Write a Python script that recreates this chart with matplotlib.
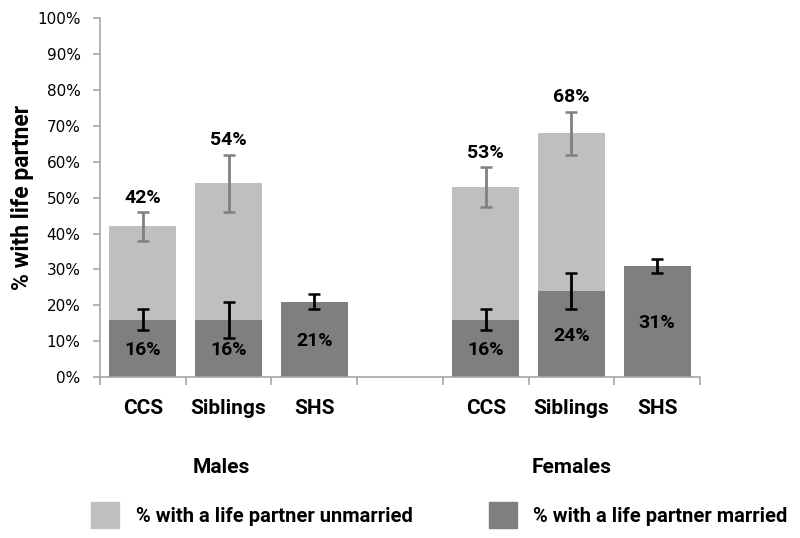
import matplotlib
matplotlib.use("Agg")
import matplotlib.pyplot as plt
import matplotlib.patches as mpatches
import numpy as np

# Data (percent)
groups = ["CCS", "Siblings", "SHS", "CCS", "Siblings", "SHS"]
positions = [0, 1, 2, 4, 5, 6]
married = [16, 16, 21, 16, 24, 31]
married_err = [3, 5, 2, 3, 5, 2]
total = [42, 54, None, 53, 68, None]
total_err = [4, 8, None, 5.5, 6, None]
sex_labels = ["Males", "Females"]
sex_centers = [0.92, 5]
y_ticks = list(range(0, 101, 10))
legend_labels = ["% with a life partner unmarried", "% with a life partner married"]

LIGHT = "#bfbfbf"
DARK = "#7f7f7f"
BOLD_FONT = ["Roboto", "DejaVu Sans"]

fig = plt.figure(figsize=(8, 5.38), dpi=100)
ax = fig.add_axes([0.125, 0.2993, 0.75, 0.6667])

bar_w = 0.78
unmarried = [t - m if t is not None else 0 for t, m in zip(total, married)]

ax.bar(positions, married, width=bar_w, color=DARK, zorder=2)
ax.bar(positions, unmarried, bottom=married, width=bar_w, color=LIGHT, zorder=2)

# error bars: upper (total) in grey, lower (married) in black
for x, t, te in zip(positions, total, total_err):
    if t is None:
        continue
    ax.errorbar(x, t, yerr=te, fmt="none", ecolor="#808080", elinewidth=2,
                capsize=4, capthick=1.8, zorder=3)
    ax.text(x, t + te + 1.5, f"{t}%", ha="center", va="bottom",
            fontsize=14, fontweight="bold", family=BOLD_FONT)

for x, m, me in zip(positions, married, married_err):
    ax.errorbar(x, m, yerr=me, fmt="none", ecolor="black", elinewidth=2,
                capsize=4, capthick=1.8, zorder=3)
    ax.text(x, m / 2 - 0.5, f"{m}%", ha="center", va="center",
            fontsize=14, fontweight="bold", family=BOLD_FONT, zorder=4)

ax.set_xlim(-0.5, 6.5)
ax.set_ylim(0, 100)
ax.set_yticks(y_ticks)
ax.set_yticklabels([f"{v}%" for v in y_ticks], fontsize=11, family="DejaVu Sans")

# category boundaries as tick marks
ax.set_xticks(np.arange(-0.5, 7.0, 1.0))
ax.set_xticklabels([])
ax.tick_params(axis="x", length=6, color="#a6a6a6", width=1.2)
ax.tick_params(axis="y", length=5, color="#a6a6a6", width=1.2, pad=9)

for s in ["top", "right"]:
    ax.spines[s].set_visible(False)
for s in ["left", "bottom"]:
    ax.spines[s].set_color("#a6a6a6")
    ax.spines[s].set_linewidth(1.2)

for x, g in zip(positions, groups):
    ax.text(x, -8.7, g, ha="center", va="center", fontsize=15,
            fontweight="bold", family=BOLD_FONT, clip_on=False)

for x, s in zip(sex_centers, sex_labels):
    ax.text(x, -25.2, s, ha="center", va="center", fontsize=15,
            fontweight="bold", family=BOLD_FONT, clip_on=False)

ax.set_ylabel("% with life partner", fontsize=16.5, fontweight="bold",
              family=BOLD_FONT, labelpad=2)

# legend drawn by hand at figure coordinates (pixels / size)
W, H = 800, 538
for (px, tx), color, label in zip([(91, 136), (489, 533)], [LIGHT, DARK], legend_labels):
    fig.patches.append(mpatches.Rectangle((px / W, 1 - 528 / H), 28 / W, 26 / H,
                                          transform=fig.transFigure, color=color))
    fig.text(tx / W, 1 - 516 / H, label, ha="left", va="center", fontsize=14.5,
             fontweight="bold", family=BOLD_FONT)

fig.savefig("out.png", dpi=100)
